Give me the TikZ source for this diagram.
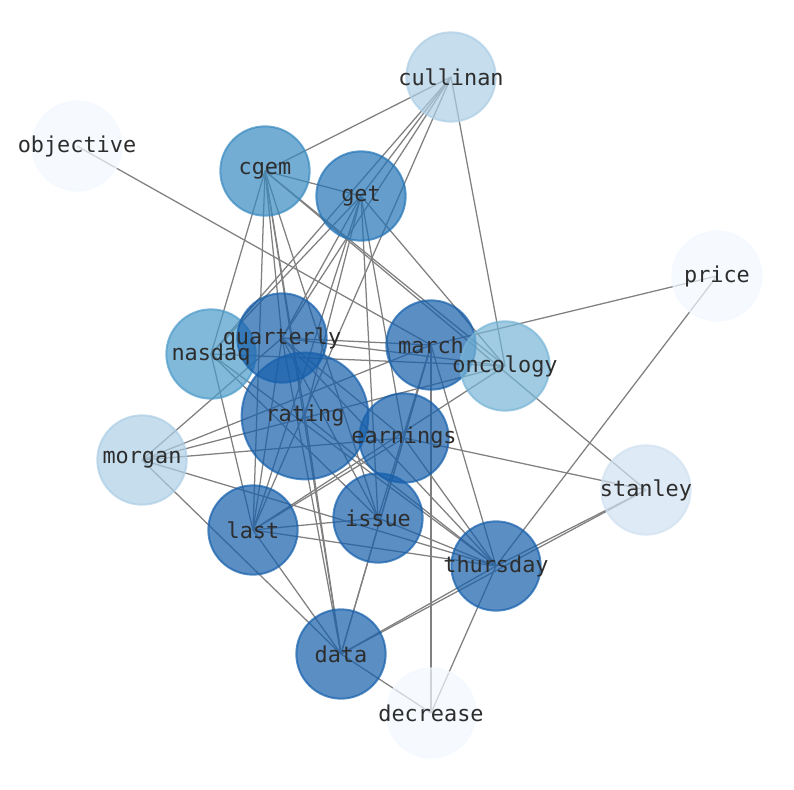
\documentclass[tikz,border=0pt]{standalone}
\usepackage{fontspec}
\newfontfamily\labfont{DejaVu Sans Mono}
\pgfdeclarelayer{bg}
\pgfsetlayers{bg,main}
\definecolor{cdark}{RGB}{21,95,171}
\definecolor{cget}{RGB}{35,116,182}
\definecolor{ccgem}{RGB}{57,138,192}
\definecolor{cnas}{RGB}{76,155,202}
\definecolor{conc}{RGB}{119,181,214}
\definecolor{cpale}{RGB}{172,206,229}
\definecolor{cstan}{RGB}{208,225,241}
\definecolor{cvl}{RGB}{242,248,255}
\definecolor{ctext}{RGB}{45,45,45}
\begin{document}
\begin{tikzpicture}[x=0.75pt,y=-0.75pt,
  vtx/.style={circle, inner sep=0pt, minimum size=67pt, line width=1.5pt, fill opacity=0.7, draw opacity=0.7},
  big/.style={minimum size=95pt},
  lab/.style={font=\labfont\fontsize{16.4}{19}\selectfont, text=ctext, inner sep=0pt},
  edge/.style={draw=black!50, line width=0.95pt}]
\useasboundingbox (0,0) rectangle (794,790);
% nodes
\node[vtx, fill=cpale, draw=cpale] (cullinan) at (451,77) {};
\node[vtx, fill=cvl, draw=cvl] (objective) at (77,146) {};
\node[vtx, fill=ccgem, draw=ccgem] (cgem) at (265,171) {};
\node[vtx, fill=cget, draw=cget] (get) at (361,196) {};
\node[vtx, fill=cvl, draw=cvl] (price) at (717,276) {};
\node[vtx, fill=cnas, draw=cnas] (nasdaq) at (211,354) {};
\node[vtx, fill=cdark, draw=cdark] (quarterly) at (282,338) {};
\node[vtx, fill=cdark, draw=cdark] (march) at (431,345) {};
\node[vtx, fill=conc, draw=conc] (oncology) at (505,366) {};
\node[vtx, big, fill=cdark, draw=cdark] (rating) at (305,416) {};
\node[vtx, fill=cdark, draw=cdark] (earnings) at (404,438) {};
\node[vtx, fill=cpale, draw=cpale] (morgan) at (142,460) {};
\node[vtx, fill=cstan, draw=cstan] (stanley) at (646,490) {};
\node[vtx, fill=cdark, draw=cdark] (last) at (253,530) {};
\node[vtx, fill=cdark, draw=cdark] (issue) at (378,518) {};
\node[vtx, fill=cdark, draw=cdark] (thursday) at (496,566) {};
\node[vtx, fill=cdark, draw=cdark] (data) at (341,654) {};
\node[vtx, fill=cvl, draw=cvl] (decrease) at (431,713) {};
% edges
\begin{pgfonlayer}{bg}
\foreach \a/\b in {cullinan/cgem, cullinan/oncology, cullinan/nasdaq, cullinan/get, cullinan/quarterly, cullinan/last,
  objective/march, price/march, price/thursday,
  decrease/march, decrease/data, decrease/thursday,
  stanley/cgem, stanley/earnings, stanley/thursday, stanley/data,
  cgem/get, cgem/oncology, cgem/nasdaq, cgem/last, cgem/quarterly, cgem/rating, cgem/data, cgem/issue,
  get/oncology, get/quarterly, get/last, get/rating, get/issue, get/earnings, get/nasdaq,
  morgan/quarterly, morgan/march, morgan/oncology, morgan/earnings, morgan/thursday, morgan/data,
  nasdaq/last, nasdaq/issue, nasdaq/thursday, nasdaq/oncology,
  quarterly/march, quarterly/oncology, quarterly/last, quarterly/issue, quarterly/thursday, quarterly/data, quarterly/earnings,
  rating/data, rating/thursday,
  march/earnings, march/issue, march/data, march/thursday,
  earnings/data, earnings/thursday,
  last/issue, last/thursday, last/data, last/oncology, last/earnings,
  issue/thursday, thursday/data}
  \draw[edge] (\a.center) -- (\b.center);
\end{pgfonlayer}
% labels
\foreach \n in {cullinan, objective, cgem, get, price, nasdaq, quarterly, march, oncology, rating, earnings, morgan, stanley, last, issue, thursday, data, decrease}
  \node[lab] (l-\n) at (\n.center) {\n};
\end{tikzpicture}
\end{document}
